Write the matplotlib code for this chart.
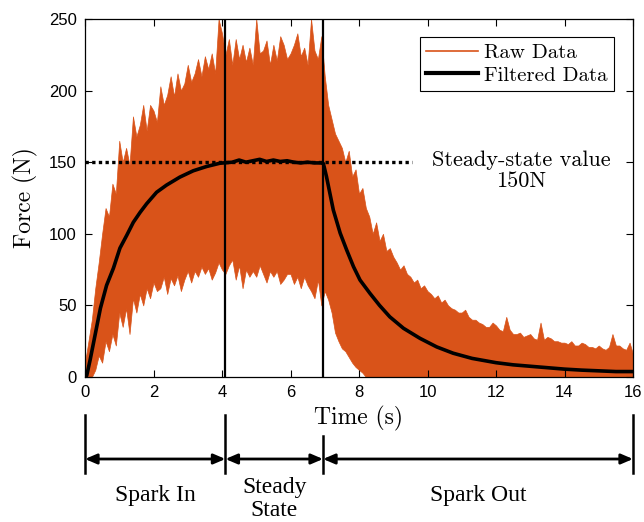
import matplotlib
matplotlib.use("Agg")
import matplotlib.pyplot as plt
from matplotlib.lines import Line2D
import matplotlib.transforms as mtransforms

# ---------------- data ----------------
raw_t = [round(0.1 * i, 1) for i in range(161)]
raw_upper = [10, 25, 40, 62, 80, 100, 118, 112, 135, 128, 165,
             150, 160, 148, 182, 168, 176, 190, 172, 190, 186,
             178, 203, 190, 197, 210, 196, 212, 200, 205, 218,
             206, 212, 222, 210, 224, 215, 226, 212, 250, 240,
             225, 236, 218, 236, 222, 232, 220, 230, 218, 250,
             226, 228, 235, 218, 232, 221, 238, 232, 222, 226,
             232, 240, 224, 230, 218, 250, 228, 222, 238, 210,
             190, 180, 170, 165, 160, 150, 158, 140, 145, 128,
             132, 118, 112, 100, 108, 95, 100, 88, 90, 84,
             80, 75, 78, 72, 70, 66, 68, 62, 64, 60,
             58, 55, 57, 52, 54, 50, 48, 47, 45, 45,
             47, 42, 40, 40, 38, 37, 35, 35, 38, 36,
             33, 32, 42, 33, 30, 30, 31, 28, 29, 30,
             27, 26, 38, 26, 28, 27, 25, 25, 24, 24,
             23, 25, 22, 22, 24, 23, 21, 21, 20, 22,
             20, 19, 21, 30, 22, 22, 20, 19, 24, 16]
raw_lower = [0, 0, 0, 5, 15, 10, 25, 18, 30, 22, 45,
             35, 48, 30, 55, 45, 58, 50, 62, 55, 66,
             60, 62, 70, 58, 69, 64, 71, 60, 68, 74,
             66, 74, 70, 77, 72, 76, 68, 73, 80, 75,
             72, 78, 82, 68, 78, 62, 75, 70, 74, 70,
             78, 72, 66, 74, 70, 74, 65, 68, 72, 72,
             65, 70, 62, 70, 64, 60, 55, 68, 50, 60,
             54, 45, 31, 25, 20, 18, 14, 10, 7, 5,
             3, 0, 0, 0, 0, 0, 0, 0, 0, 0,
             0, 0, 0, 0, 0, 0, 0, 0, 0, 0,
             0, 0, 0, 0, 0, 0, 0, 0, 0, 0,
             0, 0, 0, 0, 0, 0, 0, 0, 0, 0,
             0, 0, 0, 0, 0, 0, 0, 0, 0, 0,
             0, 0, 0, 0, 0, 0, 0, 0, 0, 0,
             0, 0, 0, 0, 0, 0, 0, 0, 0, 0,
             0, 0, 0, 0, 0, 0, 0, 0, 0, 0]

# Filtered data
filt_t = [0.0, 0.05, 0.15, 0.3, 0.45, 0.63, 0.83, 1.02, 1.22, 1.41, 1.61,
          1.8, 2.09, 2.38, 2.77, 3.16, 3.55, 3.94, 4.3, 4.5, 4.7, 4.9, 5.1,
          5.3, 5.5, 5.7, 5.9, 6.1, 6.3, 6.5, 6.7, 6.9, 6.96, 7.05, 7.25,
          7.45, 7.64, 7.84, 8.03, 8.32, 8.6, 8.9, 9.3, 9.78, 10.27, 10.75,
          11.3, 12.0, 12.5, 13.0, 13.5, 14.0, 14.5, 15.0, 15.5, 16.0]
filt_v = [0, 1, 12, 30, 48, 64, 76, 90, 99, 108, 115,
          121, 129, 134, 139.6, 144, 147, 149.3, 150, 151.5, 150, 151, 152,
          150.5, 151.5, 150.5, 151, 150, 149.5, 150, 149.5, 149.5, 149, 140, 116.6,
          100.5, 88.7, 77, 67.7, 58.4, 50, 42, 34, 27, 21, 16.6,
          13, 10, 8.5, 7.5, 6.5, 5.5, 4.8, 4.3, 3.8, 3.8]

steady_value = 150
phase_bounds = [0, 4.1, 6.95, 16]
phase_names = ["Spark In", "Steady\nState", "Spark Out"]

x_ticks = [0, 2, 4, 6, 8, 10, 12, 14, 16]
y_ticks = [0, 50, 100, 150, 200, 250]

orange = "#D95319"

# ---------------- figure ----------------
W, H = 644, 522
fig = plt.figure(figsize=(W / 100, H / 100), dpi=100)
ax = fig.add_axes([85 / W, (H - 377) / H, 548 / W, 358 / H])

ax.fill_between(raw_t, raw_lower, raw_upper, color=orange, lw=0.5,
                edgecolor=orange, zorder=1)
ax.plot(filt_t, filt_v, color="black", lw=2.6, zorder=3)
for xb in phase_bounds[1:3]:
    ax.axvline(xb, color="black", lw=1.6, zorder=4)
ax.plot([0, 9.55], [steady_value, steady_value], color="black", lw=2.4,
        linestyle=(0, (1, 1)), zorder=4)

ax.text(12.73, 144, "Steady-state value\n%dN" % steady_value, family="cmr10",
        fontsize=16, ha="center", va="center", multialignment="center",
        linespacing=1.15)

ax.set_xlim(0, 16)
ax.set_ylim(0, 250)
ax.set_xticks(x_ticks)
ax.set_yticks(y_ticks)
ax.tick_params(direction="in", top=True, right=True, length=5, width=0.8,
               labelsize=12, pad=6)
for lab in ax.get_xticklabels() + ax.get_yticklabels():
    lab.set_family("Liberation Sans")
for s in ax.spines.values():
    s.set_linewidth(0.9)

ax.set_xlabel("Time (s)", family="cmr10", fontsize=17)
ax.set_ylabel("Force (N)", family="cmr10", fontsize=17)
ax.xaxis.set_label_coords(0.5, -0.082)
ax.yaxis.set_label_coords(-0.086, 0.5)

handles = [Line2D([], [], color=orange, lw=1.2),
           Line2D([], [], color="black", lw=3)]
leg = ax.legend(handles, ["Raw Data", "Filtered Data"], loc="upper right",
                bbox_to_anchor=((614 - 85) / 548, (377 - 37) / 358),
                borderaxespad=0, fancybox=False, framealpha=1,
                edgecolor="black", handlelength=2.5, handletextpad=0.3,
                labelspacing=0.2, borderpad=0.3,
                prop={"family": "cmr10", "size": 15})
leg.get_frame().set_linewidth(0.8)

# ---------------- phase annotation below the axes ----------------
tr = mtransforms.blended_transform_factory(ax.transData, fig.transFigure)
y_top = 1 - 415 / H
y_top_mid = 1 - 436 / H
y_bot = 1 - 473 / H
y_arrow = 1 - 459 / H
for i, xb in enumerate(phase_bounds):
    yt = y_top_mid if i == 2 else y_top
    fig.add_artist(Line2D([xb, xb], [yt, y_bot], color="black", lw=1.8,
                          transform=tr))
for a, b in zip(phase_bounds[:-1], phase_bounds[1:]):
    ax.annotate("", xy=(b, y_arrow), xytext=(a, y_arrow), xycoords=tr,
                textcoords=tr, annotation_clip=False,
                arrowprops=dict(arrowstyle="<|-|>,head_length=0.7,head_width=0.3",
                                color="black", lw=2, shrinkA=0, shrinkB=0))
name_y = [1 - 495 / H, 1 - 499 / H, 1 - 495 / H]
for (a, b), name, yy in zip(zip(phase_bounds[:-1], phase_bounds[1:]),
                            phase_names, name_y):
    fig.text((a + b) / 2, yy, name, transform=tr, ha="center", va="center",
             family="Liberation Serif", fontsize=17, linespacing=1.15)

fig.savefig("out.png", dpi=100)
